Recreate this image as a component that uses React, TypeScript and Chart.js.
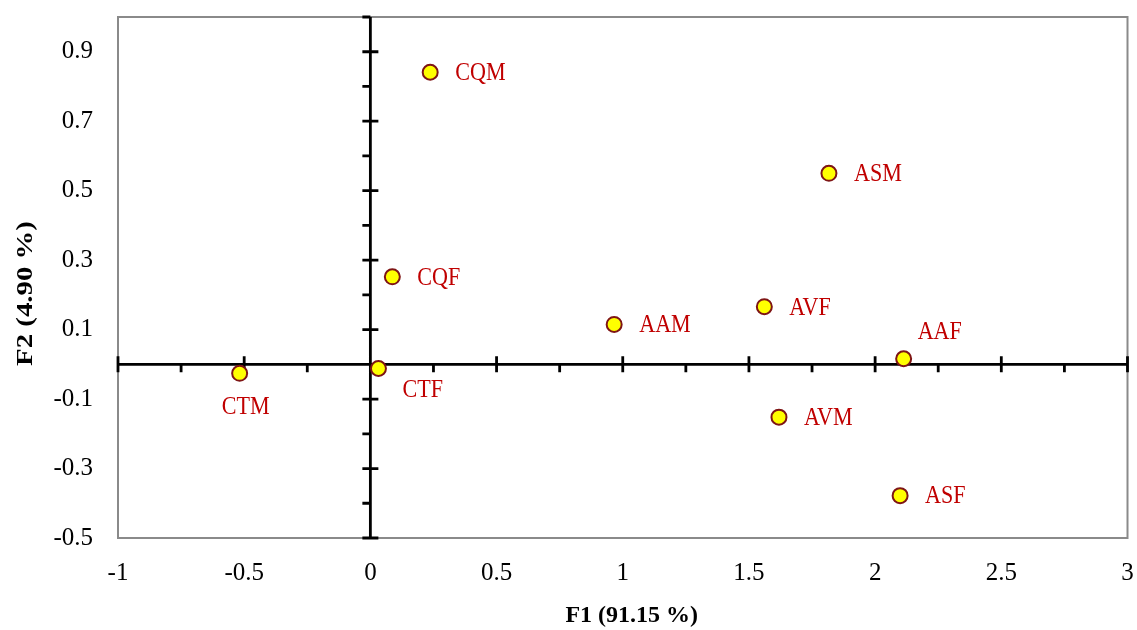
import React, { useEffect, useRef } from "react";
import { Chart, registerables } from "chart.js";

Chart.register(...registerables);

const sampleNames = ["CQM", "ASM", "CQF", "AVF", "AAM", "AAF", "CTM", "CTF", "AVM", "ASF"];
const f1Scores = [0.237, 1.817, 0.087, 1.561, 0.966, 2.113, -0.518, 0.032, 1.619, 2.099];
const f2Scores = [0.841, 0.55, 0.252, 0.166, 0.115, 0.016, -0.026, -0.012, -0.152, -0.378];
const labelPlacement = ["right", "right", "right", "right", "right", "above", "below", "belowRight", "right", "right"];

const xTickValues = [-1, -0.5, 0, 0.5, 1, 1.5, 2, 2.5, 3];
const xMinorTicks = [-0.75, -0.25, 0.25, 0.75, 1.25, 1.75, 2.25, 2.75];
const yTickValues = [-0.5, -0.3, -0.1, 0.1, 0.3, 0.5, 0.7, 0.9];
const yMinorTicks = [-0.4, -0.2, 0, 0.2, 0.4, 0.6, 0.8, 1.0];

const xTitle = "F1 (91.15 %)";
const yTitle = "F2 (4.90 %)";

const SERIF = "'Liberation Serif', 'DejaVu Serif', serif";

const placementOffsets: Record<string, { dx: number; dy: number; align: CanvasTextAlign }> = {
  right: { dx: 25, dy: 1, align: "left" },
  above: { dx: 14, dy: -27, align: "left" },
  below: { dx: 6, dy: 34, align: "center" },
  belowRight: { dx: 24, dy: 22, align: "left" },
};

const zeroPadding = (scale: any) => {
  scale.paddingTop = 0;
  scale.paddingBottom = 0;
  scale.paddingLeft = 0;
  scale.paddingRight = 0;
};

const crossAxesPlugin = {
  id: "crossAxes",
  beforeDatasetsDraw(chart: any) {
    const { ctx, chartArea: a, scales } = chart;
    const x = scales.x;
    const y = scales.y;
    ctx.save();
    ctx.strokeStyle = "#8a8a8a";
    ctx.lineWidth = 2;
    ctx.strokeRect(a.left, a.top, a.right - a.left, a.bottom - a.top);

    const x0 = x.getPixelForValue(0);
    const y0 = y.getPixelForValue(0);
    ctx.strokeStyle = "#000000";
    ctx.lineWidth = 2.8;
    ctx.lineCap = "butt";
    ctx.beginPath();
    ctx.moveTo(a.left, y0);
    ctx.lineTo(a.right, y0);
    ctx.moveTo(x0, a.top);
    ctx.lineTo(x0, a.bottom);
    xTickValues.forEach((v) => {
      const px = x.getPixelForValue(v);
      ctx.moveTo(px, y0 - 8);
      ctx.lineTo(px, y0 + 8);
    });
    xMinorTicks.forEach((v) => {
      const px = x.getPixelForValue(v);
      ctx.moveTo(px, y0);
      ctx.lineTo(px, y0 + 8);
    });
    yTickValues.forEach((v) => {
      const py = y.getPixelForValue(v);
      ctx.moveTo(x0 - 8, py);
      ctx.lineTo(x0 + 8, py);
    });
    yMinorTicks.forEach((v) => {
      const py = y.getPixelForValue(v);
      ctx.moveTo(x0 - 8, py);
      ctx.lineTo(x0, py);
    });
    ctx.stroke();
    ctx.restore();
  },
  afterDatasetsDraw(chart: any) {
    const { ctx } = chart;
    const meta = chart.getDatasetMeta(0);
    ctx.fillStyle = "#C00000";
    ctx.font = `26px ${SERIF}`;
    ctx.textBaseline = "middle";
    meta.data.forEach((pt: any, i: number) => {
      const off = placementOffsets[labelPlacement[i]] || placementOffsets.right;
      ctx.save();
      ctx.textAlign = off.align;
      ctx.translate(pt.x + off.dx, pt.y + off.dy);
      ctx.scale(0.85, 1);
      ctx.fillText(sampleNames[i], 0, 0);
      ctx.restore();
    });
  },
  afterDraw(chart: any) {
    const { ctx, chartArea: a } = chart;
    ctx.save();
    ctx.fillStyle = "#000000";
    ctx.font = `bold 24px ${SERIF}`;
    ctx.textBaseline = "middle";
    ctx.textAlign = "center";
    ctx.fillText(xTitle, (a.left + a.right) / 2 + 9, a.bottom + 78);
    ctx.restore();
    ctx.save();
    ctx.fillStyle = "#000000";
    ctx.font = `bold 24px ${SERIF}`;
    ctx.textBaseline = "middle";
    ctx.textAlign = "center";
    ctx.translate(26, (a.top + a.bottom) / 2 + 16);
    ctx.rotate(-Math.PI / 2);
    ctx.scale(1.2, 1);
    ctx.fillText(yTitle, 0, 0);
    ctx.restore();
  },
};

export default function App() {
  const canvasRef = useRef<HTMLCanvasElement | null>(null);

  useEffect(() => {
    document.body.style.margin = "0";
    const canvas = canvasRef.current;
    if (!canvas) return;
    const chart = new Chart(canvas, {
      type: "scatter",
      data: {
        datasets: [
          {
            label: "Samples",
            data: f1Scores.map((v, i) => ({ x: v, y: f2Scores[i] })),
            backgroundColor: "#FFFF00",
            borderColor: "#7E1515",
            borderWidth: 2,
            pointRadius: 7.5,
            pointHoverRadius: 7.5,
          },
        ],
      },
      options: {
        responsive: false,
        animation: false,
        layout: { padding: { top: 17, right: 7, left: 0, bottom: 0 } },
        plugins: {
          legend: { display: false },
          tooltip: { enabled: false },
          title: { display: false },
        },
        scales: {
          x: {
            type: "linear",
            min: -1,
            max: 3,
            grid: { display: false, drawTicks: false },
            border: { display: false },
            afterBuildTicks: (scale: any) => {
              scale.ticks = xTickValues.map((value) => ({ value }));
            },
            afterFit: (scale: any) => {
              scale.height = 92;
              zeroPadding(scale);
            },
            ticks: {
              padding: 20,
              color: "#000000",
              font: { family: SERIF, size: 25 },
              maxRotation: 0,
              autoSkip: false,
              callback: (v: any) => String(v),
            },
          },
          y: {
            type: "linear",
            min: -0.5,
            max: 1.0,
            grid: { display: false, drawTicks: false },
            border: { display: false },
            afterBuildTicks: (scale: any) => {
              scale.ticks = yTickValues.map((value) => ({ value }));
            },
            afterFit: (scale: any) => {
              scale.width = 118;
              zeroPadding(scale);
            },
            ticks: {
              padding: 25,
              color: "#000000",
              font: { family: SERIF, size: 25 },
              autoSkip: false,
              callback: (v: any) => Number(v).toFixed(1),
            },
          },
        },
      },
      plugins: [crossAxesPlugin],
    });
    return () => chart.destroy();
  }, []);

  return (
    <div style={{ width: 1137, height: 630, background: "#ffffff" }}>
      <canvas ref={canvasRef} width={1137} height={630} />
    </div>
  );
}
